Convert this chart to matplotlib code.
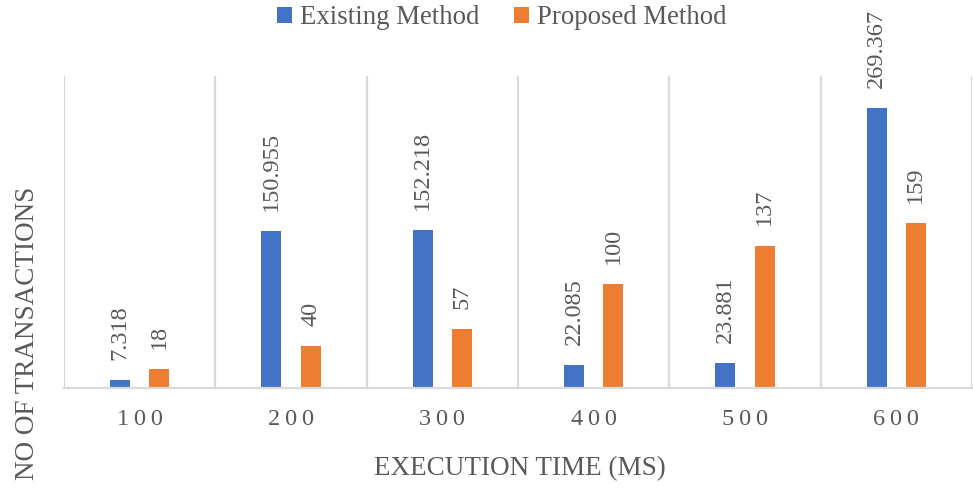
import matplotlib
matplotlib.use("Agg")
import matplotlib.pyplot as plt
import numpy as np

# Transactions by execution time
categories = ["100", "200", "300", "400", "500", "600"]
existing = [7.318, 150.955, 152.218, 22.085, 23.881, 269.367]
proposed = [18, 40, 57, 100, 137, 159]
series_names = ["Existing Method", "Proposed Method"]

BLUE = "#4472C4"
ORANGE = "#ED7D31"
GRID = "#D9D9D9"
TEXT = "#595959"

plt.rcParams["font.family"] = ["Liberation Serif", "DejaVu Serif"]

fig = plt.figure(figsize=(9.73, 4.88), dpi=100)
ax = fig.add_axes([64 / 973, 1 - 388 / 488, 908 / 973, 312 / 488])

x = np.arange(len(categories))
bw = 0.132
off = 0.129
b1 = ax.bar(x - off, existing, bw, color=BLUE, label=series_names[0], zorder=3)
b2 = ax.bar(x + off, proposed, bw, color=ORANGE, label=series_names[1], zorder=3)

for bars, vals in ((b1, existing), (b2, proposed)):
    for rect, v in zip(bars, vals):
        ax.annotate(f"{v:g}", (rect.get_x() + rect.get_width() / 2, v),
                    xytext=(0, 14.5), textcoords="offset points",
                    rotation=90, ha="center", va="bottom",
                    fontsize=17.5, color=TEXT)

# category separators
for b in np.arange(-0.5, len(categories), 1.0):
    ax.axvline(b, color=GRID, lw=1.6, zorder=1)

ax.set_xlim(-0.5, len(categories) - 0.5)
ax.set_ylim(0, 300)
ax.set_yticks([])
ax.set_xticks(x)
ax.set_xticklabels(["\u2009".join(c) for c in categories], fontsize=17.5, color=TEXT)
ax.tick_params(axis="x", length=0, pad=15)

for s in ("top", "left", "right"):
    ax.spines[s].set_visible(False)
ax.spines["bottom"].set_color(GRID)
ax.spines["bottom"].set_linewidth(1.6)
ax.spines["bottom"].set_zorder(4)

fig.text(520 / 973, 1 - 469 / 488, "EXECUTION TIME (MS)", ha="center", va="center",
         fontsize=19.5, color=TEXT)
fig.text(28 / 973, 1 - 333 / 488, "NO OF TRANSACTIONS", ha="center", va="center",
         rotation=90, fontsize=19.5, color=TEXT)

leg = fig.legend(loc="center", bbox_to_anchor=(502 / 973, 1 - 18 / 488), ncol=2,
                 frameon=False, fontsize=19.3, handlelength=0.55, handleheight=0.55,
                 handletextpad=0.3, columnspacing=1.3, borderpad=0)
for t in leg.get_texts():
    t.set_color(TEXT)

fig.savefig("out.png", dpi=100)
